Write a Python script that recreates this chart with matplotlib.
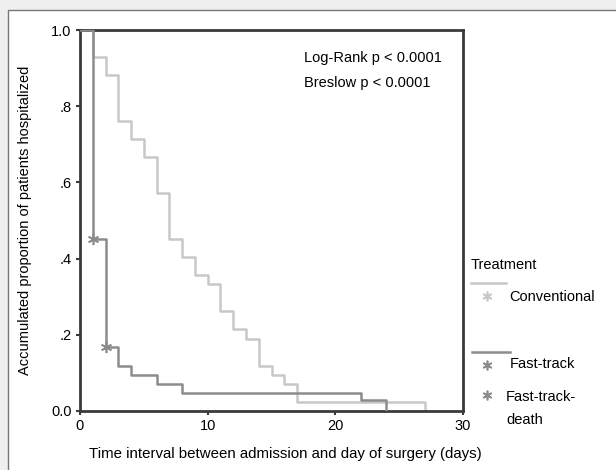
import matplotlib.pyplot as plt
from matplotlib.patches import Rectangle

plt.rcParams['font.family'] = ['Liberation Sans', 'DejaVu Sans']

# Kaplan-Meier steps (time in days, proportion still hospitalized)
conv_t = [0, 1, 2, 3, 4, 5, 6, 7, 8, 9, 10, 11, 12, 13, 14, 15, 16, 17, 27]
conv_s = [1.0, 0.929, 0.881, 0.762, 0.714, 0.667, 0.571, 0.452, 0.405, 0.357,
          0.333, 0.262, 0.214, 0.190, 0.119, 0.095, 0.071, 0.024, 0.0]

fast_t = [0, 1, 2, 3, 4, 6, 8, 22, 24]
fast_s = [1.0, 0.452, 0.167, 0.119, 0.095, 0.071, 0.048, 0.029, 0.0]

# censored (death) marks
death_t = [1, 2]
death_s = [0.452, 0.167]

c_conv = '#c8c8c8'
c_fast = '#8c8c8c'
c_death = '#8c8c8c'
c_axis = '#3a3a3a'
fs = 10.5

fig = plt.figure(figsize=(6.16, 4.70), dpi=100)
fig.patch.set_facecolor('#efefef')
fig.patches.append(Rectangle((8 / 616, -0.01), 1.0, (470 - 10) / 470 + 0.01,
                             transform=fig.transFigure, facecolor='white',
                             edgecolor='#777777', linewidth=1.0, zorder=-10))

ax = fig.add_axes([80 / 616, (470 - 411) / 470, 383 / 616, 381 / 470])
ax.set_facecolor('white')

ax.step(conv_t, conv_s, where='post', color=c_conv, lw=1.8, zorder=2)
ax.step(fast_t, fast_s, where='post', color=c_fast, lw=1.8, zorder=3)
ax.plot(death_t, death_s, linestyle='none', marker=(6, 2, 0), markersize=8,
        markeredgecolor=c_death, markeredgewidth=1.2, zorder=4)

ax.set_xlim(0, 30)
ax.set_ylim(0, 1.0)
ax.set_xticks([0, 10, 20, 30])
ax.set_yticks([0, 0.2, 0.4, 0.6, 0.8, 1.0])
ax.set_yticklabels(['0.0', '.2', '.4', '.6', '.8', '1.0'])
ax.tick_params(labelsize=fs, length=3, width=1.5, color=c_axis, pad=3)
for s in ax.spines.values():
    s.set_color(c_axis)
    s.set_linewidth(2)

ax.set_xlabel('Time interval between admission and day of surgery (days)',
              fontsize=10.8)
ax.xaxis.set_label_coords(0.535, -0.095)
ax.set_ylabel('Accumulated proportion of patients hospitalized',
              fontsize=fs, labelpad=14)

ax.text(0.585, 0.915, 'Log-Rank p < 0.0001', transform=ax.transAxes, fontsize=fs)
ax.text(0.585, 0.85, 'Breslow p < 0.0001', transform=ax.transAxes, fontsize=fs)

# legend drawn by hand, outside the axes
def fx(px):
    return px / 616

def fy(py):
    return 1 - py / 470

fig.text(fx(471), fy(265), 'Treatment', fontsize=fs, va='center')
fig.add_artist(plt.Line2D([fx(471), fx(506)], [fy(283), fy(283)], color=c_conv, lw=1.8))
fig.add_artist(plt.Line2D([fx(487)], [fy(296)], marker=(6, 2, 0), markersize=7,
                          markeredgecolor=c_conv, markeredgewidth=1.2))
fig.text(fx(509), fy(297), 'Conventional', fontsize=fs, va='center')
fig.add_artist(plt.Line2D([fx(472), fx(510)], [fy(352), fy(352)], color=c_fast, lw=1.8))
fig.add_artist(plt.Line2D([fx(487)], [fy(365)], marker=(6, 2, 0), markersize=7,
                          markeredgecolor=c_fast, markeredgewidth=1.2))
fig.text(fx(510), fy(364), 'Fast-track', fontsize=fs, va='center')
fig.add_artist(plt.Line2D([fx(487)], [fy(395)], marker=(6, 2, 0), markersize=7,
                          markeredgecolor=c_death, markeredgewidth=1.2))
fig.text(fx(506), fy(397), 'Fast-track-', fontsize=fs, va='center')
fig.text(fx(506), fy(420), 'death', fontsize=fs, va='center')

fig.savefig('out.png', dpi=100, facecolor=fig.get_facecolor())
